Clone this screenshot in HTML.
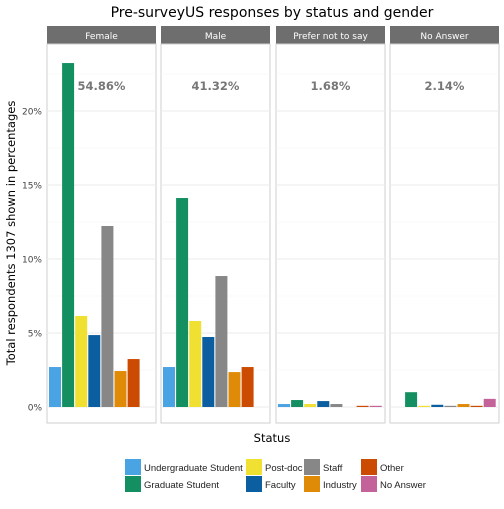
<!DOCTYPE html>
<html><head><meta charset="utf-8"><style>
body{margin:0;background:#fff;font-family:"Liberation Sans",sans-serif}
svg text{font-family:"DejaVu Sans","Liberation Sans",sans-serif}
svg text.lg{font-family:"Liberation Sans",sans-serif}
</style></head><body>
<svg id="c" width="504" height="504"></svg>
<script>
const panels=["Female","Male","Prefer not to say","No Answer"];
const panelPct=["54.86%","41.32%","1.68%","2.14%"];
const categories=["Undergraduate Student","Graduate Student","Post-doc","Faculty","Staff","Industry","Other","No Answer"];
const colors=["#4aa3e2","#138f61","#efe031","#0b5ea0","#878787","#e08b08","#cb4b02","#c4629a"];
const valFemale=[2.7,23.24,6.15,4.86,12.23,2.43,3.24,0];
const valMale=[2.7,14.12,5.81,4.73,8.85,2.36,2.7,0];
const valPrefer=[0.2,0.47,0.2,0.4,0.2,0,0.08,0.08];
const valNoAns=[0,1.0,0.08,0.15,0.08,0.2,0.08,0.55];
const series=[valFemale,valMale,valPrefer,valNoAns];
const yTicks=[0,5,10,15,20];
const yTickLabels=["0%","5%","10%","15%","20%"];
const NS="http://www.w3.org/2000/svg",svg=document.getElementById('c');
function mk(t,a,p){const e=document.createElementNS(NS,t);for(const k in a)e.setAttribute(k,a[k]);(p||svg).appendChild(e);return e;}
const y=v=>407-v*14.8;
const pL=[47,161,276,390],pW=109,pT=44,pB=423;
const t=mk('text',{x:272,y:17,'text-anchor':'middle','font-size':14,fill:'#000'});t.textContent="Pre-surveyUS responses by status and gender";

panels.forEach((p,i)=>{
 const g=mk('g',{});
 const x0=pL[i];
 mk('rect',{x:x0,y:26,width:pW,height:18,fill:'#6e6e6e'},g);
 const st=mk('text',{x:x0+pW/2,y:39,'text-anchor':'middle','font-size':9,fill:'#fff'},g);st.textContent=p;
 mk('rect',{x:x0,y:pT,width:pW,height:pB-pT,fill:'#fff',stroke:'#cfcfcf','stroke-width':1},g);
 yTicks.forEach(v=>{mk('line',{x1:x0,x2:x0+pW,y1:y(v),y2:y(v),stroke:'#ebebeb','stroke-width':1},g);
   mk('line',{x1:x0,x2:x0+pW,y1:y(v+2.5),y2:y(v+2.5),stroke:'#f5f5f5','stroke-width':0.6},g);});
 series[i].forEach((v,j)=>{const b=mk('rect',{x:x0+2+j*13.1,y:y(v),width:12,height:Math.max(v*14.8,0.01),fill:colors[j]},g);
   });
 const pt=mk('text',{x:x0+pW/2,y:90,'text-anchor':'middle','font-size':11.5,'font-weight':'bold',fill:'#777'},g);pt.textContent=panelPct[i];
});
yTicks.forEach((v,k)=>{const tl=mk('text',{x:42,y:y(v)+3.5,'text-anchor':'end','font-size':9,fill:'#444'});tl.textContent=yTickLabels[k];
 });
const yt=mk('text',{x:0,y:0,transform:'translate(15,233) rotate(-90)','text-anchor':'middle','font-size':11.5,fill:'#000'});yt.textContent="Total respondents 1307 shown in percentages";

const xt=mk('text',{x:272,y:442,'text-anchor':'middle','font-size':11.5,fill:'#000'});xt.textContent="Status";

const lyy=[459,476],lcx=[125,246,304,361];
categories.forEach((c,j)=>{const col=Math.floor(j/2),row=j%2;
 const g=mk('g',{});
 const cx=lcx[col];
 mk('rect',{x:cx,y:lyy[row],width:16,height:16,fill:colors[j]},g);
 const tx=mk('text',{x:cx+19,y:lyy[row]+12,'font-size':9.5,fill:'#222','class':'lg'},g);tx.textContent=c;});
</script></body></html>
